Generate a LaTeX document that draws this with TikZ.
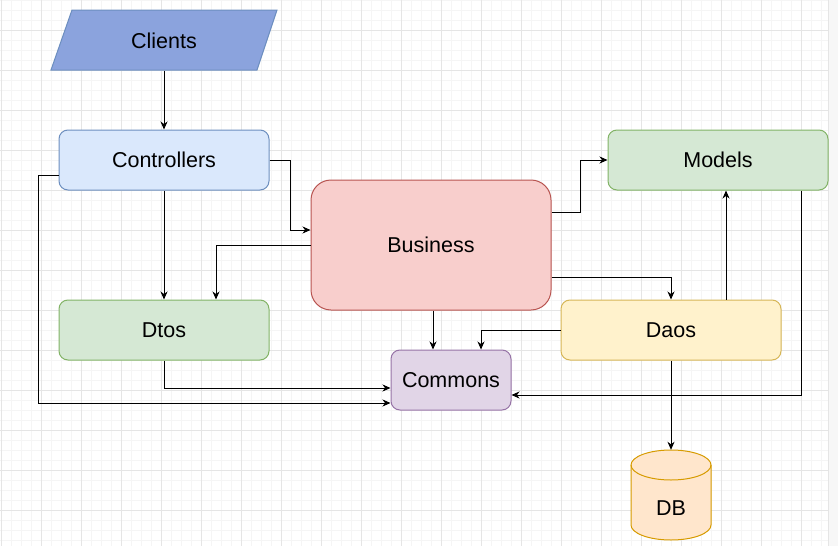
\documentclass[tikz,border=0pt]{standalone}
\usepackage{fontspec}
\setmainfont{Liberation Sans}
\usetikzlibrary{arrows.meta}
\definecolor{gridmin}{HTML}{F5F5F5}
\definecolor{gridmaj}{HTML}{E5E5E5}
\definecolor{cliFill}{HTML}{8BA3DD}
\definecolor{blueStroke}{HTML}{6C8EBF}
\definecolor{blueFill}{HTML}{DAE8FC}
\definecolor{redFill}{HTML}{F8CECC}
\definecolor{redStroke}{HTML}{B85450}
\definecolor{greenFill}{HTML}{D5E8D4}
\definecolor{greenStroke}{HTML}{82B366}
\definecolor{yelFill}{HTML}{FFF2CC}
\definecolor{yelStroke}{HTML}{D6B656}
\definecolor{purFill}{HTML}{E1D5E7}
\definecolor{purStroke}{HTML}{9673A6}
\definecolor{orFill}{HTML}{FFE6CC}
\definecolor{orStroke}{HTML}{D79B00}
\tikzset{
  lbl/.style={font=\fontsize{21.5}{24}\selectfont, text=black},
  boxnode/.style={lbl, draw, line width=1pt, rounded corners=9pt, inner sep=0pt},
  arr/.style={draw=black, line width=1pt, -{Stealth[length=8pt,width=7pt,inset=2.5pt]}},
  gmin/.style={draw=gridmin, line width=0.8pt},
  gmaj/.style={draw=gridmaj, line width=0.9pt}
}
\begin{document}
\begin{tikzpicture}[x=1pt,y=-1pt]
\useasboundingbox (0,0) rectangle (838,546);
\fill[white] (0,0) rectangle (838,546);
% grid
\foreach \x in {1.3,11.3,...,831.3} \draw[gmin] (\x,0) -- (\x,546);
\foreach \y in {0.3,10.3,...,546} \draw[gmin] (0,\y) -- (829,\y);
\foreach \x in {1.3,41.3,...,831.3} \draw[gmaj] (\x,0) -- (\x,546);
\foreach \y in {30.3,70.3,...,546} \draw[gmaj] (0,\y) -- (829,\y);
\fill[gray!6] (829,0) rectangle (838,546);
\draw[gridmaj, line width=0.8pt] (828.8,0) -- (828.8,546);

% Clients parallelogram
\filldraw[fill=cliFill, draw=blueStroke, line width=1pt]
  (72,10) -- (277,10) -- (257,70) -- (51,70) -- cycle;
\node[lbl, minimum width=206pt, minimum height=60pt, inner sep=0pt] (clients) at (164,40.5) {Clients};

% boxes
\node[boxnode, fill=blueFill, draw=blueStroke, minimum width=210pt, minimum height=60pt] (ctrl) at (164,160) {Controllers};
\node[boxnode, fill=redFill, draw=redStroke, rounded corners=20pt, minimum width=240pt, minimum height=130pt] (bus) at (431,245) {Business};
\node[boxnode, fill=greenFill, draw=greenStroke, minimum width=220pt, minimum height=60pt] (models) at (718,160) {Models};
\node[boxnode, fill=greenFill, draw=greenStroke, minimum width=210pt, minimum height=60pt] (dtos) at (164,330) {Dtos};
\node[boxnode, fill=purFill, draw=purStroke, minimum width=120pt, minimum height=60pt] (com) at (451,380) {Commons};
\node[boxnode, fill=yelFill, draw=yelStroke, minimum width=220pt, minimum height=60pt] (daos) at (671,330) {Daos};

% DB cylinder
\filldraw[fill=orFill, draw=orStroke, line width=1pt]
  (631,465) -- (631,525)
  .. controls (631,533.3) and (648.9,540) .. (671,540)
  .. controls (693.1,540) and (711,533.3) .. (711,525)
  -- (711,465)
  .. controls (711,456.7) and (693.1,450) .. (671,450)
  .. controls (648.9,450) and (631,456.7) .. (631,465) -- cycle;
\draw[draw=orStroke, line width=1pt]
  (631,465) .. controls (631,473.3) and (648.9,480) .. (671,480)
  .. controls (693.1,480) and (711,473.3) .. (711,465);
\node[minimum width=80pt, minimum height=90pt, inner sep=0pt] (db) at (671,495) {};
\node[lbl] (dbtext) at (671,508) {DB};

% connectors
\draw[arr] (clients.south) -- (ctrl.north);
\draw[arr] (ctrl.east) -- ++(21,0) |- ([yshift=15pt]bus.west);
\draw[arr] (ctrl.south) -- (dtos.north);
\draw[arr] (bus.west) -| ([xshift=52pt]dtos.north);
\draw[arr] ([yshift=-15pt]ctrl.west) -- ++(-20,0) |- ([yshift=-23pt]com.west);
\draw[arr] (dtos.south) |- ([yshift=-8pt]com.west);
\draw[arr] ([xshift=2pt]bus.south) -- ([xshift=2pt]bus.south |- com.north);
\draw[arr] (daos.west) -| ([xshift=30pt]com.north);
\draw[arr] ([yshift=33pt]bus.east) -- ++(28.5,0) |- (models.west);
\draw[arr] ([yshift=-32pt]bus.east) -| (daos.north);
\draw[arr] ([xshift=55pt]daos.north) -- ([xshift=55pt]daos.north |- models.south);
\draw[arr] ([xshift=83pt]models.south) |- ([yshift=-15pt]com.east);
\draw[arr] (daos.south) -- (db.north);
\end{tikzpicture}
\end{document}
